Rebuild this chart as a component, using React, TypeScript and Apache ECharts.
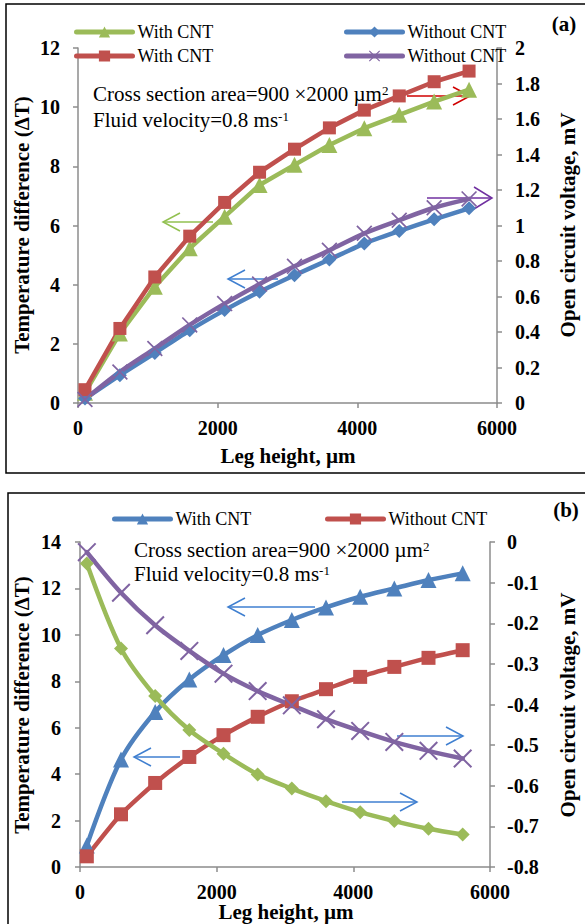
import React, { useEffect, useRef } from "react";
import * as echarts from "echarts";

// ---------- data ----------
const legHeight = [100, 600, 1100, 1600, 2100, 2600, 3100, 3600, 4100, 4600, 5100, 5600];

// Panel (a)
const aWithCntDeltaT = [0.35, 2.35, 3.93, 5.23, 6.3, 7.37, 8.05, 8.72, 9.29, 9.74, 10.19, 10.59];
const aWithoutCntDeltaT = [0.15, 0.94, 1.69, 2.46, 3.14, 3.76, 4.32, 4.85, 5.39, 5.81, 6.21, 6.58];
const aWithCntVoltage = [0.075, 0.42, 0.71, 0.94, 1.13, 1.3, 1.43, 1.55, 1.65, 1.73, 1.81, 1.87];
const aWithoutCntVoltage = [0.02, 0.175, 0.307, 0.44, 0.56, 0.67, 0.77, 0.86, 0.956, 1.03, 1.1, 1.15];

// Panel (b)
const bWithCntDeltaT = [0.93, 4.63, 6.68, 8.08, 9.13, 9.99, 10.64, 11.18, 11.64, 12.0, 12.36, 12.65];
const bWithoutCntDeltaT = [0.46, 2.27, 3.62, 4.74, 5.68, 6.47, 7.14, 7.66, 8.19, 8.62, 9.01, 9.34];
const bVoltageDiamond = [-0.053, -0.262, -0.379, -0.463, -0.521, -0.572, -0.607, -0.638, -0.665, -0.687, -0.706, -0.72];
const bVoltageCross = [-0.025, -0.125, -0.205, -0.268, -0.324, -0.367, -0.402, -0.436, -0.465, -0.492, -0.514, -0.533];

// axis ranges
const xRange = { min: 0, max: 6000, interval: 2000 };
const aLeftRange = { min: 0, max: 12, interval: 2 };
const aRightRange = { min: 0, max: 2, interval: 0.2 };
const bLeftRange = { min: 0, max: 14, interval: 2 };
const bRightRange = { min: -0.8, max: 0, interval: 0.1 };

// texts
const xTitle = "Leg height, µm";
const leftTitle = "Temperature difference (ΔT)";
const rightTitle = "Open circuit voltage, mV";
const annotLine1 = "Cross section area=900 ×2000 µm";
const annotLine2 = "Fluid velocity=0.8 ms";

const FONT = "'Liberation Serif', 'Times New Roman', serif";
const GREEN = "#9bbb59";
const BLUE = "#4f81bd";
const RED = "#c0504d";
const PURPLE = "#8064a2";
const CROSS = "path://M0,1.5L1.5,0L20,18.5L18.5,20ZM18.5,0L20,1.5L1.5,20L0,18.5Z";

const displayName: Record<string, string> = {
  aG: "With CNT",
  aB: "Without CNT",
  aR: "With CNT",
  aP: "Without CNT",
  bB: "With CNT",
  bR: "Without CNT",
  bG: "voltage 1",
  bP: "voltage 2",
};

const pairs = (ys: number[]) => legHeight.map((x, i) => [x, ys[i]]);

const axisLineStyle = { color: "#8c8c8c", width: 1.5 };
const tickLabel = { color: "#000", fontFamily: FONT, fontWeight: "bold" as const, fontSize: 20 };

function xAxis(gridIndex: number) {
  return {
    gridIndex,
    type: "value",
    ...xRange,
    axisLine: { show: true, onZero: false, lineStyle: axisLineStyle },
    axisTick: { show: true, length: 5, lineStyle: axisLineStyle },
    axisLabel: { ...tickLabel, margin: 15, formatter: (v: number) => String(v) },
    splitLine: { show: false },
  };
}

function yAxis(gridIndex: number, range: any, position: "left" | "right", margin: number) {
  return {
    gridIndex,
    type: "value",
    position,
    ...range,
    axisLine: { show: true, onZero: false, lineStyle: axisLineStyle },
    axisTick: { show: true, length: 5, lineStyle: axisLineStyle },
    axisLabel: { ...tickLabel, margin },
    splitLine: { show: false },
  };
}

function arrow(x1: number, y1: number, x2: number, y2: number, color: string, len = 17, half = 9) {
  const dir = x2 > x1 ? 1 : -1;
  return {
    type: "group",
    children: [
      { type: "line", shape: { x1, y1, x2, y2 }, style: { stroke: color, lineWidth: 1.5 } },
      {
        type: "polyline",
        shape: { points: [[x2 - dir * len, y2 - half], [x2, y2], [x2 - dir * len, y2 + half]] },
        style: { stroke: color, lineWidth: 1.5, fill: null },
      },
    ],
  };
}

function text(x: number, y: number, t: string, size: number, bold: boolean, rotation = 0, align = "center") {
  return {
    type: "text",
    x,
    y,
    rotation,
    style: {
      text: t,
      fontFamily: FONT,
      fontSize: size,
      fontWeight: bold ? "bold" : "normal",
      fill: "#000",
      align,
      verticalAlign: "middle",
      textAlign: align,
      textVerticalAlign: "middle",
    },
  };
}

function annot(x: number, y: number, main: string, sup: string) {
  return {
    type: "text",
    x,
    y,
    style: {
      text: `{n|${main}}{s|${sup}}`,
      rich: {
        n: { fontFamily: FONT, fontSize: 21, lineHeight: 21, fill: "#000", color: "#000" },
        s: { fontFamily: FONT, fontSize: 13, lineHeight: 13, verticalAlign: "top", fill: "#000", color: "#000" },
      },
      align: "left",
      verticalAlign: "middle",
      textAlign: "left",
      textVerticalAlign: "middle",
    },
  };
}

function legend(name: string, left: number, top: number) {
  return {
    data: [name],
    left,
    top,
    orient: "horizontal",
    itemWidth: 56,
    itemHeight: 14,
    itemGap: 0,
    padding: 0,
    selectedMode: false,
    lineStyle: { width: 5, cap: "round" },
    textStyle: { fontFamily: FONT, fontSize: 18, color: "#000" },
    formatter: (n: string) => displayName[n] ?? n,
  };
}

function lineSeries(
  name: string,
  xAxisIndex: number,
  yAxisIndex: number,
  ys: number[],
  color: string,
  symbol: string,
  symbolSize: number,
  smooth: number | boolean
) {
  return {
    type: "line",
    name,
    xAxisIndex,
    yAxisIndex,
    data: pairs(ys),
    symbol,
    symbolSize,
    showAllSymbol: true,
    smooth,
    lineStyle: { color, width: 4.5, cap: "round", join: "round" },
    itemStyle: { color },
    emphasis: { disabled: true },
  };
}

export default function App() {
  const ref = useRef<HTMLDivElement>(null);

  useEffect(() => {
    if (!ref.current) return;
    const chart = echarts.init(ref.current, undefined, { renderer: "svg" });
    const option: any = {
      animation: false,
      backgroundColor: "#fff",
      grid: [
        { left: 78, top: 48, width: 419, height: 355 },
        { left: 80, top: 542, width: 410, height: 325 },
      ],
      xAxis: [xAxis(0), xAxis(1)],
      yAxis: [
        yAxis(0, aLeftRange, "left", 18),
        yAxis(0, aRightRange, "right", 18),
        yAxis(1, bLeftRange, "left", 19),
        yAxis(1, bRightRange, "right", 17),
      ],
      legend: [
        legend("aG", 74, 23),
        legend("aB", 344, 23),
        legend("aR", 74, 47),
        legend("aP", 344, 47),
        legend("bB", 112, 510),
        legend("bR", 325, 510),
      ],
      series: [
        lineSeries("aG", 0, 0, aWithCntDeltaT, GREEN, "triangle", 16, false),
        lineSeries("aB", 0, 0, aWithoutCntDeltaT, BLUE, "diamond", 14, 0.2),
        lineSeries("aR", 0, 1, aWithCntVoltage, RED, "rect", 13, false),
        lineSeries("aP", 0, 1, aWithoutCntVoltage, PURPLE, CROSS, 16, 0.3),
        lineSeries("bB", 1, 2, bWithCntDeltaT, BLUE, "triangle", 16, 0.3),
        lineSeries("bR", 1, 2, bWithoutCntDeltaT, RED, "rect", 14, 0.2),
        lineSeries("bG", 1, 3, bVoltageDiamond, GREEN, "diamond", 14, 0.3),
        lineSeries("bP", 1, 3, bVoltageCross, PURPLE, CROSS, 19, 0.3),
      ],
      graphic: [
        { type: "rect", shape: { x: 6, y: 4, width: 620, height: 469 }, style: { stroke: "#000", lineWidth: 1.5, fill: null }, silent: true },
        { type: "rect", shape: { x: 8, y: 493, width: 620, height: 480 }, style: { stroke: "#000", lineWidth: 1.5, fill: null }, silent: true },
        text(564, 24, "(a)", 21, true),
        text(566, 510, "(b)", 21, true),
        text(288, 456, xTitle, 21, true),
        text(286, 912, xTitle, 21, true),
        text(22, 225, leftTitle, 21, true, Math.PI / 2),
        text(568, 225, rightTitle, 21, true, Math.PI / 2),
        text(22, 705, leftTitle, 21, true, Math.PI / 2),
        text(568, 705, rightTitle, 21, true, Math.PI / 2),
        annot(93, 94, annotLine1, "2"),
        annot(93, 120, annotLine2, "-1"),
        annot(134, 550, annotLine1, "2"),
        annot(134, 574, annotLine2, "-1"),
        arrow(213, 222, 163, 222, "#92c050"),
        arrow(278, 279, 228, 279, "#3f7fd0"),
        arrow(407, 96, 470, 96, "#d00000"),
        arrow(427, 198, 492, 198, "#7030a0", 18, 11),
        arrow(315, 607, 228, 607, "#3f7fd0"),
        arrow(180, 757, 134, 757, "#3f7fd0"),
        arrow(397, 736, 463, 736, "#3f7fd0"),
        arrow(342, 802, 417, 802, "#3f7fd0"),
      ],
    };
    chart.setOption(option);
    return () => chart.dispose();
  }, []);

  return (
    <div
      ref={ref}
      style={{ position: "absolute", left: 0, top: 0, width: 585, height: 924, background: "#fff" }}
    />
  );
}
